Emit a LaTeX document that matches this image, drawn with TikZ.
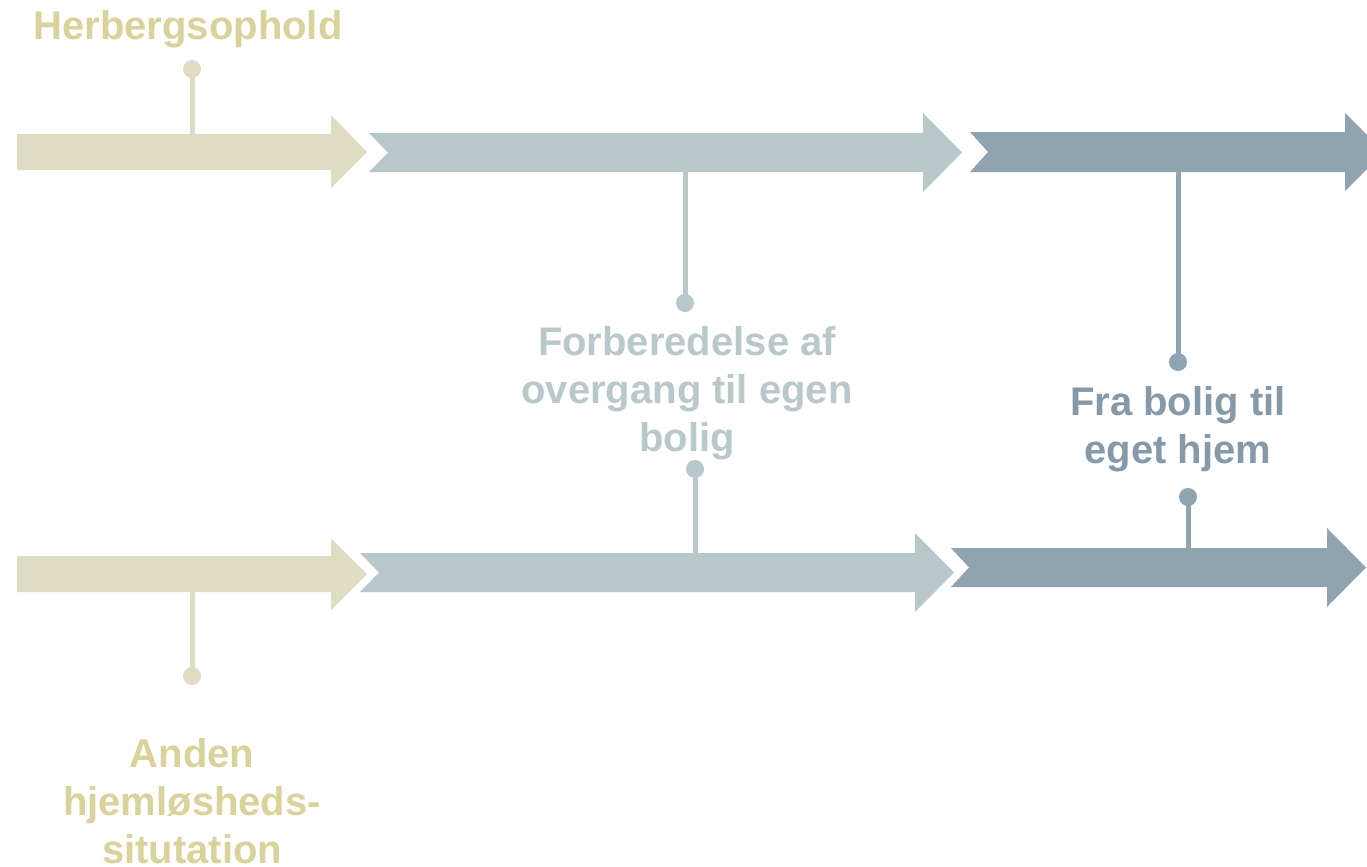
\documentclass[tikz,border=0pt]{standalone}
\usepackage{fontspec}
\setmainfont{Liberation Sans}
\definecolor{beige}{HTML}{DEDCC2}
\definecolor{beigetxt}{HTML}{D9D29B}
\definecolor{light}{HTML}{B8C7CA}
\definecolor{lighttxt}{HTML}{B9C8CB}
\definecolor{dark}{HTML}{90A3B1}
\definecolor{darktxt}{HTML}{8699A9}
\tikzset{
  dotnode/.style={circle, fill=#1, inner sep=0pt, minimum size=13.5pt},
  stem/.style={draw=#1, line width=3.75pt},
  lbl/.style={text=#1, font=\bfseries\fontsize{30}{36}\selectfont, anchor=base, inner sep=0pt},
}
\begin{document}
\begin{tikzpicture}[x=0.75pt,y=-0.75pt]
\useasboundingbox (0,0) rectangle (1367,867);
\fill[white] (0,0) rectangle (1367,867);
\clip (0,0) rectangle (1367,867);

% top row arrows
\fill[beige] (17,134) -- (331,134) -- (331,115) -- (367,152) -- (331,188) -- (331,170) -- (17,170) -- cycle;
\fill[light] (369,133) -- (923,133) -- (923,113) -- (962,152.5) -- (923,192) -- (923,172) -- (369,172) -- (388,152.5) -- cycle;
\fill[dark] (970,132) -- (1345,132) -- (1345,113) -- (1384,152) -- (1345,191) -- (1345,172) -- (970,172) -- (988,152) -- cycle;

% bottom row arrows
\fill[beige] (17,556) -- (331,556) -- (331,538) -- (367,574) -- (331,610) -- (331,592) -- (17,592) -- cycle;
\fill[light] (360,553) -- (915,553) -- (915,533) -- (954,572.5) -- (915,612) -- (915,592) -- (360,592) -- (379,572.5) -- cycle;
\fill[dark] (951,548) -- (1327,548) -- (1327,528) -- (1366,567.5) -- (1327,607) -- (1327,587) -- (951,587) -- (969,567.5) -- cycle;

% stem end points on arrows
\coordinate (e1) at (192,134);
\coordinate (e2) at (685,172);
\coordinate (e3) at (1178,172);
\coordinate (e4) at (192,592);
\coordinate (e5) at (695,553);
\coordinate (e6) at (1188,548);

% dots
\node[dotnode=beige] (d1) at (192,69) {};
\node[dotnode=light] (d2) at (685,303) {};
\node[dotnode=dark]  (d3) at (1178,362) {};
\node[dotnode=beige] (d4) at (192,676) {};
\node[dotnode=light] (d5) at (695,469) {};
\node[dotnode=dark]  (d6) at (1188,497) {};

% stems
\draw[stem=beige] (d1.center) -- (e1);
\draw[stem=light] (d2.center) -- (e2);
\draw[stem=dark]  (d3.center) -- (e3);
\draw[stem=beige] (d4.center) -- (e4);
\draw[stem=light] (d5.center) -- (e5);
\draw[stem=dark]  (d6.center) -- (e6);

% labels
\node[lbl=beigetxt] (t1) at (188,40) {Herbergsophold};

\node[lbl=lighttxt] (t2a) at (687,355) {Forberedelse af};
\node[lbl=lighttxt] (t2b) at (687,403) {overgang til egen};
\node[lbl=lighttxt] (t2c) at (687,451) {bolig};

\node[lbl=darktxt] (t3a) at (1178,415) {Fra bolig til};
\node[lbl=darktxt] (t3b) at (1178,463) {eget hjem};

\node[lbl=beigetxt] (t4a) at (192,767) {Anden};
\node[lbl=beigetxt] (t4b) at (192,815) {hjemløsheds-};
\node[lbl=beigetxt] (t4c) at (192,863) {situtation};
\end{tikzpicture}
\end{document}
